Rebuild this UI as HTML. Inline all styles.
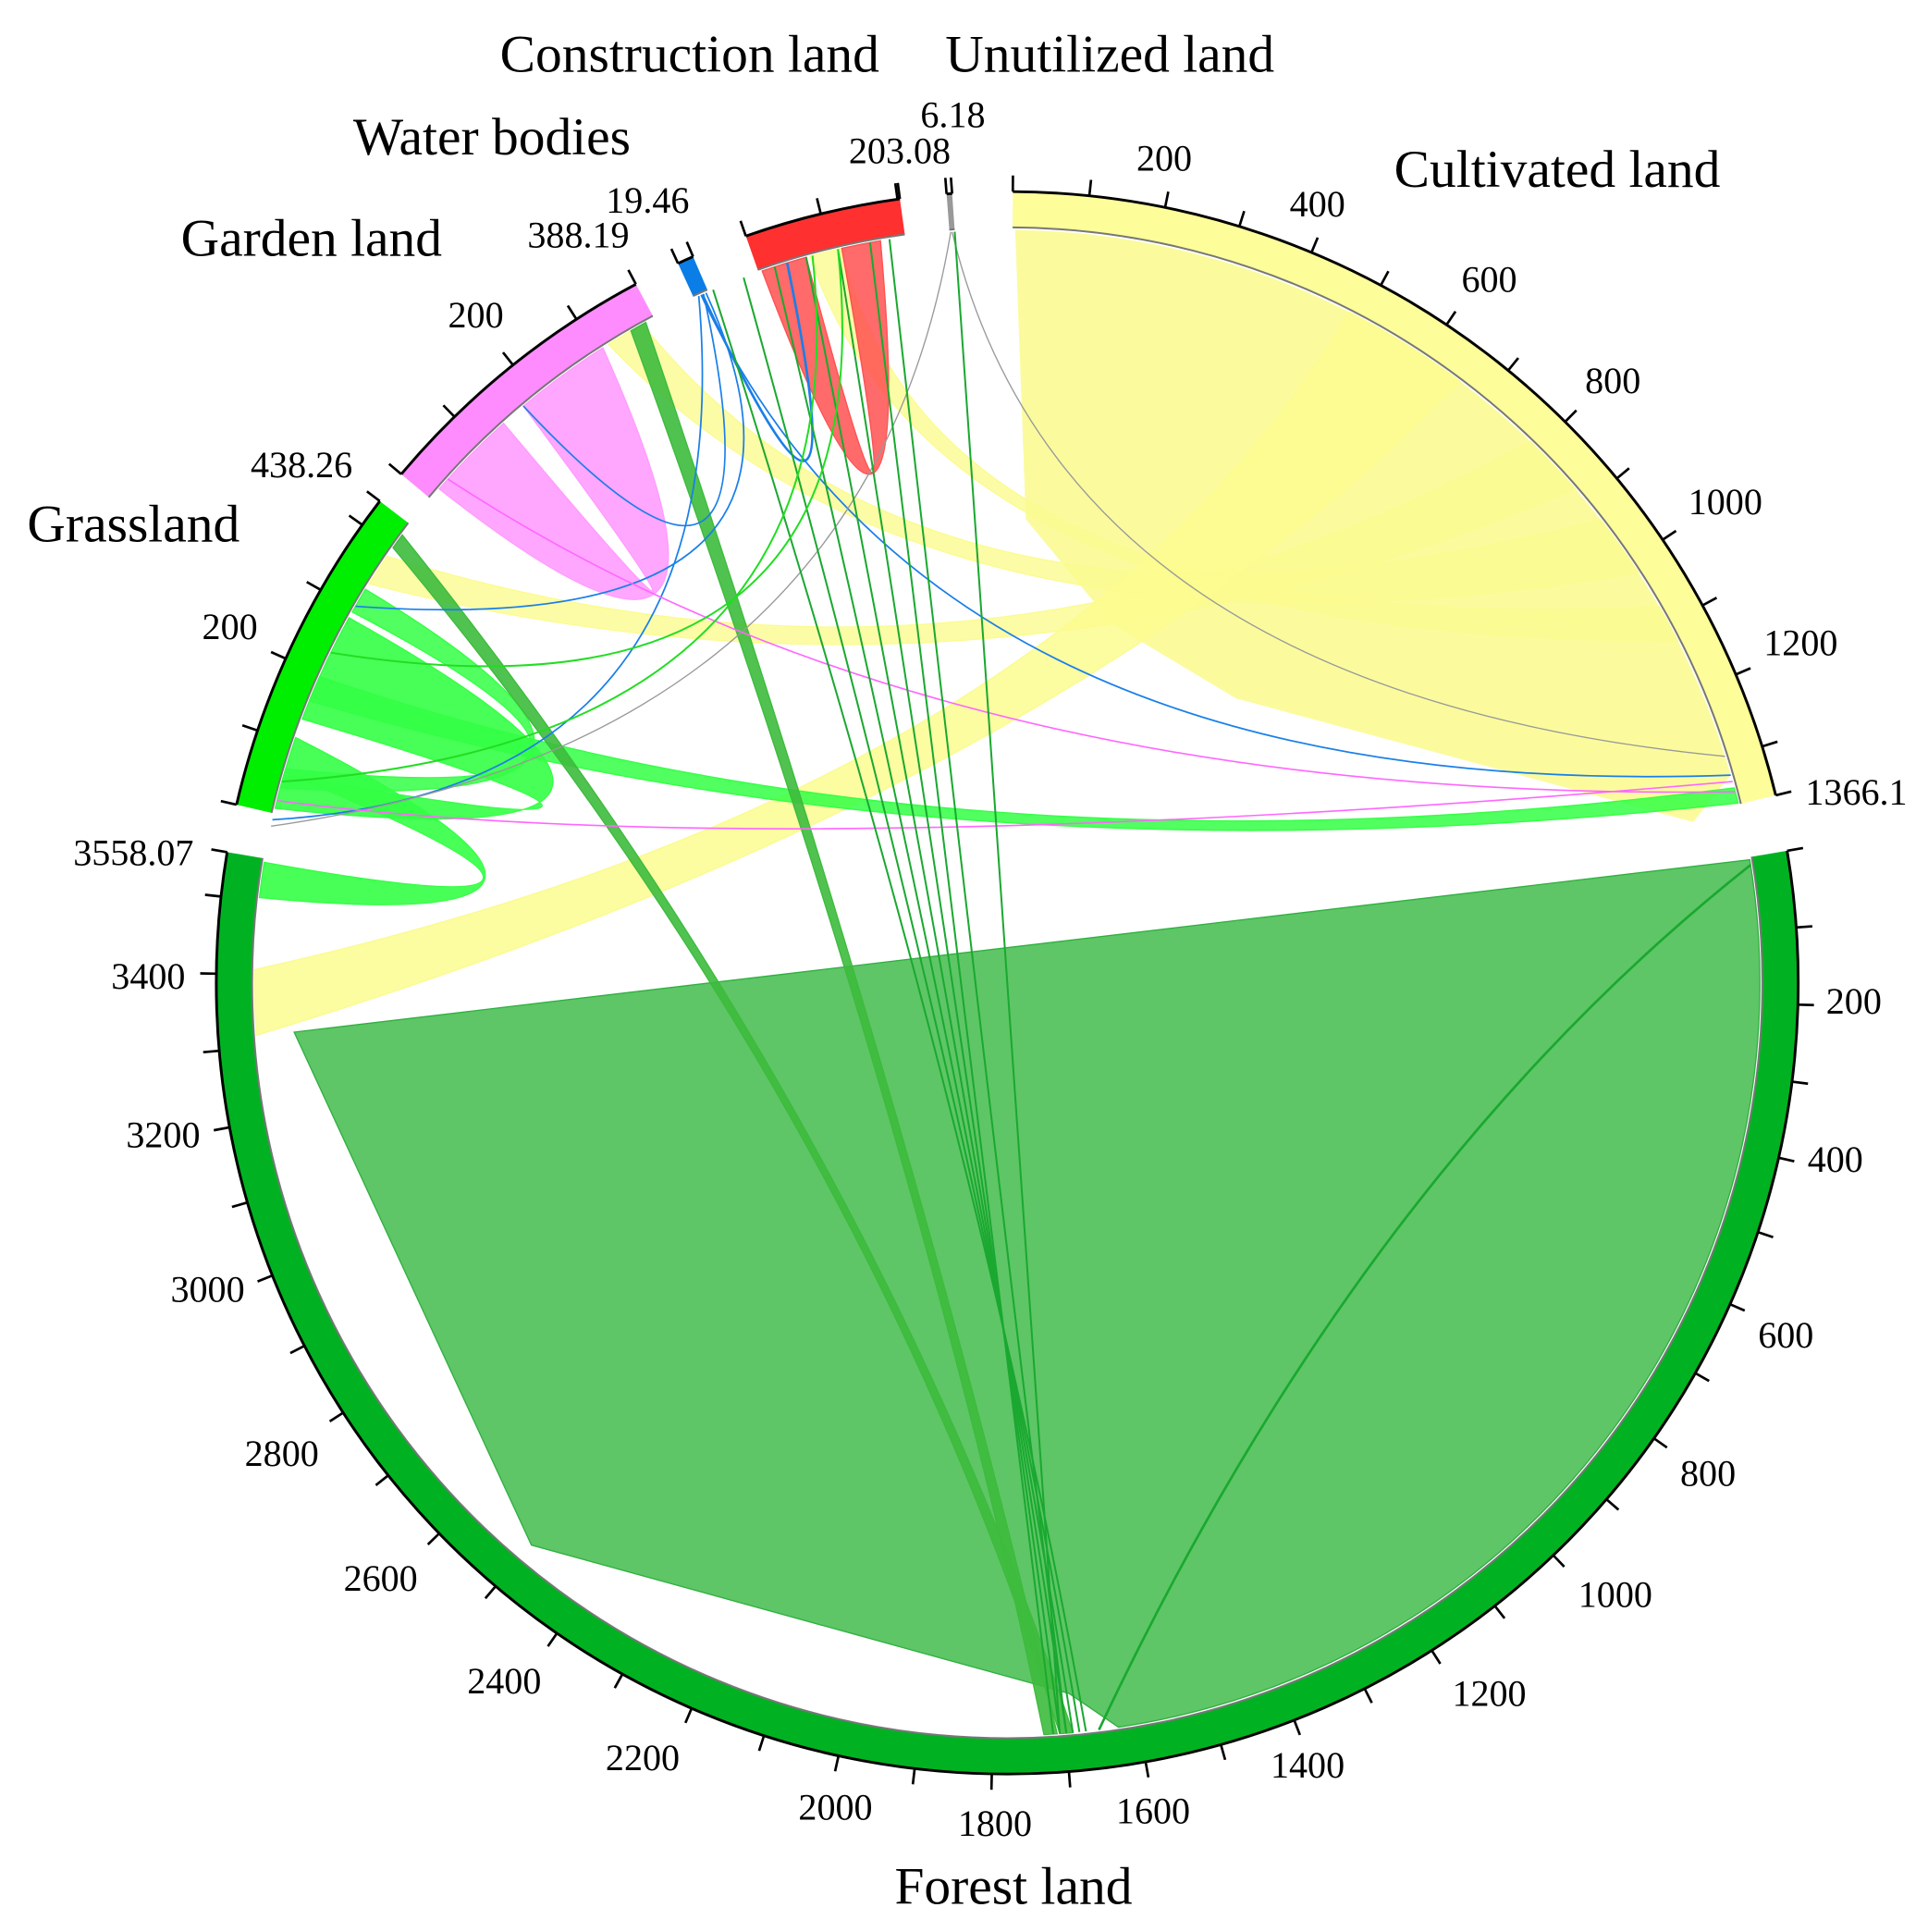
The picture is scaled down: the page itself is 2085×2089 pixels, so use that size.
<!DOCTYPE html>
<html><head><meta charset="utf-8"><style>
html,body{margin:0;padding:0;background:#fff;}
svg{display:block;}
text{font-family:"Liberation Serif",serif;fill:#000;}
.t{font-size:43px;}
.n{font-size:30px;}
</style></head><body>
<svg id="s" width="2085" height="2089" viewBox="0 0 1560 1563" xmlns="http://www.w3.org/2000/svg">
<g id="chords"></g>
<g id="bands"></g>
<g text-anchor="middle">
<text class="t" x="558" y="58">Construction land</text>
<text class="t" x="898" y="58">Unutilized land</text>
<text class="t" x="398" y="125">Water bodies</text>
<text class="t" x="1260" y="151">Cultivated land</text>
<text class="t" x="252" y="207">Garden land</text>
<text class="t" x="108" y="438">Grassland</text>
<text class="t" x="820" y="1540">Forest land</text>
<text class="n" x="942" y="138">200</text>
<text class="n" x="1066" y="175">400</text>
<text class="n" x="1205" y="236">600</text>
<text class="n" x="1305" y="318">800</text>
<text class="n" x="1396" y="416">1000</text>
<text class="n" x="1457" y="530">1200</text>
<text class="n" x="1502" y="651">1366.1</text>
<text class="n" x="1500" y="820">200</text>
<text class="n" x="1485" y="948">400</text>
<text class="n" x="1445" y="1090">600</text>
<text class="n" x="1382" y="1202">800</text>
<text class="n" x="1307" y="1300">1000</text>
<text class="n" x="1205" y="1380">1200</text>
<text class="n" x="1058" y="1438">1400</text>
<text class="n" x="933" y="1475">1600</text>
<text class="n" x="805" y="1485">1800</text>
<text class="n" x="676" y="1472">2000</text>
<text class="n" x="520" y="1432">2200</text>
<text class="n" x="408" y="1370">2400</text>
<text class="n" x="308" y="1287">2600</text>
<text class="n" x="228" y="1186">2800</text>
<text class="n" x="168" y="1053">3000</text>
<text class="n" x="132" y="928">3200</text>
<text class="n" x="120" y="800">3400</text>
<text class="n" x="108" y="700">3558.07</text>
<text class="n" x="186" y="517">200</text>
<text class="n" x="244" y="386">438.26</text>
<text class="n" x="385" y="265">200</text>
<text class="n" x="468" y="200">388.19</text>
<text class="n" x="524" y="172">19.46</text>
<text class="n" x="728" y="132">203.08</text>
<text class="n" x="771" y="103">6.18</text>
</g>
</svg>
<script>
var cx=815,cy=795,R=640,r=611,ri=609;
function P(a,rr){var t=a*Math.PI/180;return [cx+rr*Math.sin(t),cy-rr*Math.cos(t)];}
function f(p){return p[0].toFixed(1)+" "+p[1].toFixed(1);}
function arc(a1,a2,rr,sw){var p=P(a2,rr);var large=Math.abs(a2-a1)>180?1:0;return "A"+rr+" "+rr+" 0 "+large+" "+sw+" "+f(p);}
var NS="http://www.w3.org/2000/svg";
function add(g,tag,at){var e=document.createElementNS(NS,tag);for(var k in at)e.setAttribute(k,at[k]);document.getElementById(g).appendChild(e);return e;}
var segs=[
 {s:0.4,e:76.3,v:1366.1,c:"#fdfd9a"},
 {s:80.4,e:279.5,v:3558.07,c:"#00b222"},
 {s:283,e:307.5,v:438.26,c:"#00ee00"},
 {s:310,e:332,v:388.19,c:"#ff8cff"},
 {s:335.4,e:336.6,v:19.46,c:"#0a7de6"},
 {s:340.7,e:352.2,v:203.08,c:"#ff3030"},
 {s:355.6,e:356.0,v:6.18,c:"#999"}
];
segs.forEach(function(g){
 add("bands","path",{d:"M"+f(P(g.s,R))+arc(g.s,g.e,R,1)+"L"+f(P(g.e,r))+arc(g.e,g.s,r,0)+"Z",fill:g.c,stroke:"none"});
 add("bands","path",{d:"M"+f(P(g.s,R))+arc(g.s,g.e,R,1),fill:"none",stroke:"#000","stroke-width":2.2});
 add("bands","path",{d:"M"+f(P(g.s,r))+arc(g.s,g.e,r,1),fill:"none",stroke:"#777","stroke-width":1.5});
 var vals=[0];for(var v=100;v<g.v;v+=100)vals.push(v);vals.push(g.v);
 vals.forEach(function(v){var a=g.s+(g.e-g.s)*v/g.v;add("bands","path",{d:"M"+f(P(a,R))+"L"+f(P(a,R+13)),stroke:"#000","stroke-width":2});});
});
function ribbon(a1,a2,b1,b2,fill,op,c){c=c||[cx,cy];
 var d="M"+f(P(a1,ri))+arc(a1,a2,ri,1)+"Q"+c[0]+" "+c[1]+" "+f(P(b1,ri))+arc(b1,b2,ri,1)+"Q"+c[0]+" "+c[1]+" "+f(P(a1,ri))+"Z";
 add("chords","path",{d:d,fill:fill,"fill-opacity":op,stroke:fill,"stroke-width":1});}
function line(a,b,col,w,c){c=c||[cx,cy];add("chords","path",{d:"M"+f(P(a,ri))+"Q"+c[0]+" "+c[1]+" "+f(P(b,ri)),fill:"none",stroke:col,"stroke-width":w||1.3});}
add("chords","path",{d:"M"+f(P(80.6,ri))+arc(80.6,171.5,ri,1)+"L865 1370L430 1250L238 835Z",fill:"#5ec666",stroke:"#2fb040","stroke-width":1});
add("chords","path",{d:"M"+f(P(0.6,ri))+arc(0.6,74,ri,1)+"L1370 665L1000 565L900 505L830 420Z",fill:"#fbfb9e"});
ribbon(27,37,266,271,"#fbfb90",0.85,[860,640]);
ribbon(44,49,302,304.5,"#fbfb90",0.8,[800,600]);
ribbon(52,57,328,331,"#fbfb90",0.8,[760,560]);
ribbon(60,63,344.8,347.2,"#fbfb90",0.8,[760,520]);
ribbon(311,318,320,327.5,"#ff9cff",0.9,[640,620]);
ribbon(341,344.5,347.3,350.3,"#ff5050",0.85,[745,560]);
ribbon(290.5,299,283.4,286,"#33ff44",0.9,[640,700]);
ribbon(286.2,289,276.5,279.2,"#33ff44",0.9,[560,760]);
ribbon(292,294,75,76.2,"#33ff44",0.85,[760,720]);
ribbon(299.5,301.5,285,286.5,"#33ff44",0.85,[600,660]);
ribbon(305.3,306.5,175,176,"#3dbb3d",0.9,[700,900]);
ribbon(330,331.3,176.2,177.2,"#3dbb3d",0.9,[740,900]);
line(336,74,"#1a7fe8",1.3,[760,650]);line(335.8,282.5,"#1a7fe8",1.3,[600,640]);
line(336.2,320,"#1a7fe8",1.3,[640,560]);line(336.4,300,"#1a7fe8",1.3,[700,520]);
line(336.1,343,"#1a7fe8",2,[700,520]);
line(355.8,72.5,"#999",1,[860,560]);line(355.7,282,"#999",1,[700,600]);
line(312,75.3,"#ff66ff",1.2,[760,650]);line(284,74.5,"#ff66ff",1.2,[620,700]);
for(var i=0;i<6;i++){line(337+i*2.5,174+i*0.5,"#1aa830",1.5,[790,900]);}
line(356,176,"#1aa830",1.5,[820,900]);line(351,175.5,"#1aa830",1.5,[800,900]);
line(81,173,"#1aa830",2,[1100,950]);
line(345,285.5,"#22dd22",1.5,[700,600]);line(347,296,"#22dd22",1.5,[720,600]);
</script>
</body></html>
